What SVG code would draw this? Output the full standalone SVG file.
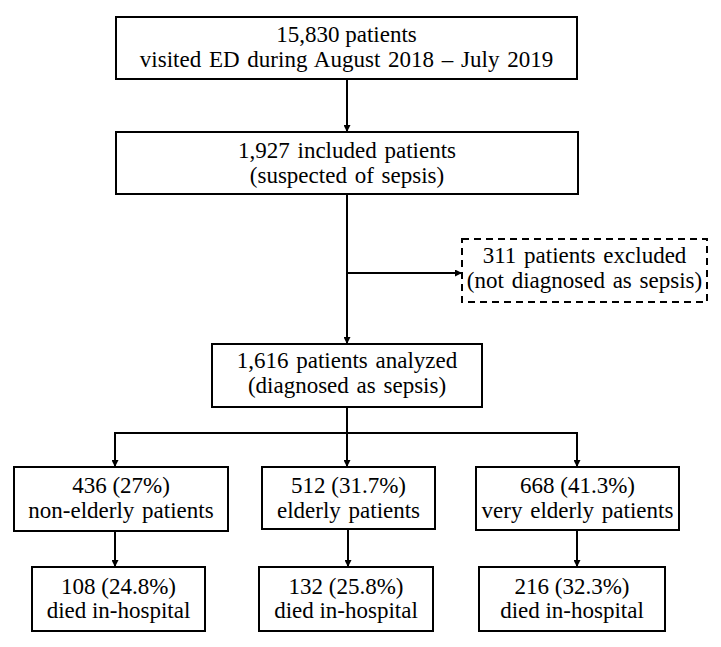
<svg xmlns="http://www.w3.org/2000/svg" width="721" height="647" viewBox="0 0 721 647">
<style>
.box{fill:#fff;stroke:#000;stroke-width:2}
.dash{fill:#fff;stroke:#000;stroke-width:2;stroke-dasharray:7,5}
.t{font-family:'Times New Roman','Liberation Serif',serif;font-size:23px;fill:#000;text-anchor:middle}
.w{word-spacing:2px}
.c{fill:none;stroke:#000;stroke-width:2}
</style>
<defs>
<marker id="ah" viewBox="0 0 10 10" refX="10" refY="5" markerWidth="3.5" markerHeight="3.5" orient="auto" markerUnits="strokeWidth">
<path d="M0,0 L10,5 L0,10 Z" fill="#000"/>
</marker>
</defs>
<rect width="721" height="647" fill="#fff"/>
<g id="connectors">
<line class="c" x1="347" y1="79" x2="347" y2="132" marker-end="url(#ah)"/>
<line class="c" x1="347" y1="194" x2="347" y2="344" marker-end="url(#ah)"/>
<line class="c" x1="347" y1="273" x2="462" y2="273" marker-end="url(#ah)"/>
<line class="c" x1="347" y1="407" x2="347" y2="433"/>
<line class="c" x1="115" y1="433" x2="577" y2="433"/>
<line class="c" x1="115" y1="432" x2="115" y2="467" marker-end="url(#ah)"/>
<line class="c" x1="347" y1="432" x2="347" y2="467" marker-end="url(#ah)"/>
<line class="c" x1="577" y1="432" x2="577" y2="467" marker-end="url(#ah)"/>
<line class="c" x1="115" y1="531" x2="115" y2="567" marker-end="url(#ah)"/>
<line class="c" x1="348" y1="529" x2="348" y2="567" marker-end="url(#ah)"/>
<line class="c" x1="577" y1="530" x2="577" y2="567" marker-end="url(#ah)"/>
</g>
<g id="n1"><rect class="box" x="116" y="17" width="461" height="62"/>
<text class="t" x="346.5" y="42">15,830 patients</text>
<text class="t w" x="346.5" y="67">visited ED during August 2018 – July 2019</text></g>
<g id="n2"><rect class="box" x="116" y="132" width="462" height="62"/>
<text class="t w" x="347" y="158">1,927 included patients</text>
<text class="t w" x="347" y="183">(suspected of sepsis)</text></g>
<g id="n3"><rect class="dash" x="462" y="239" width="245" height="63"/>
<text class="t w" x="584.5" y="263">311 patients excluded</text>
<text class="t w" x="584.5" y="288">(not diagnosed as sepsis)</text></g>
<g id="n4"><rect class="box" x="212" y="344" width="270" height="63"/>
<text class="t w" x="347" y="368">1,616 patients analyzed</text>
<text class="t w" x="347" y="393">(diagnosed as sepsis)</text></g>
<g id="n5"><rect class="box" x="14" y="467" width="214" height="64"/>
<text class="t" x="121" y="493">436 (27%)</text>
<text class="t w" x="121" y="518">non-elderly patients</text></g>
<g id="n6"><rect class="box" x="262" y="467" width="173" height="62"/>
<text class="t" x="348.5" y="493">512 (31.7%)</text>
<text class="t w" x="348.5" y="518">elderly patients</text></g>
<g id="n7"><rect class="box" x="476" y="467" width="203" height="63"/>
<text class="t" x="577.5" y="493">668 (41.3%)</text>
<text class="t w" x="577.5" y="518">very elderly patients</text></g>
<g id="n8"><rect class="box" x="32" y="567" width="173" height="64"/>
<text class="t" x="118.5" y="594">108 (24.8%)</text>
<text class="t" x="118.5" y="618">died in-hospital</text></g>
<g id="n9"><rect class="box" x="259" y="567" width="174" height="64"/>
<text class="t" x="346" y="594">132 (25.8%)</text>
<text class="t" x="346" y="618">died in-hospital</text></g>
<g id="n10"><rect class="box" x="479" y="567" width="186" height="64"/>
<text class="t" x="572" y="594">216 (32.3%)</text>
<text class="t" x="572" y="618">died in-hospital</text></g>
</svg>
